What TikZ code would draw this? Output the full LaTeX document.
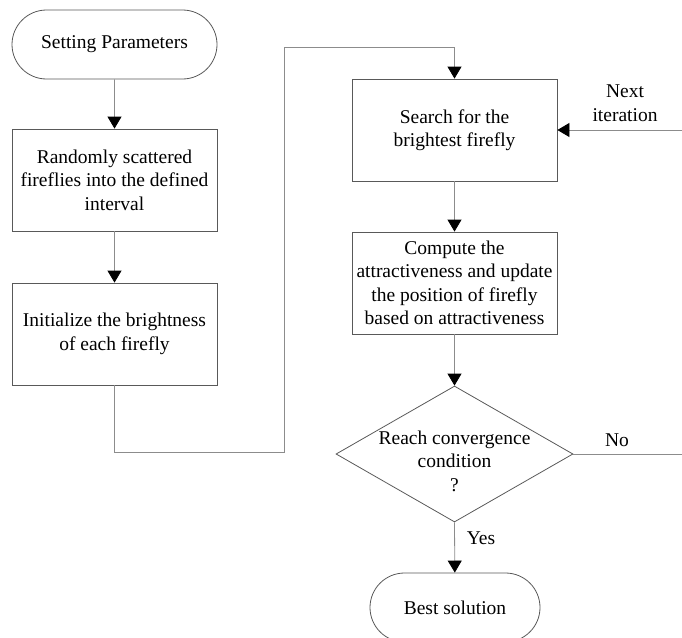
\documentclass[tikz,border=0pt]{standalone}
\usepackage{fontspec}
\setmainfont{Liberation Serif}
\usetikzlibrary{arrows.meta,shapes.misc,shapes.geometric}

\tikzset{
    stepbox/.style={draw=black!65, line width=0.8pt, minimum width=205pt,
        minimum height=102pt, align=center, inner sep=0pt},
    terminal/.style={draw=black!65, line width=0.8pt, rounded rectangle,
        minimum height=69pt, inner sep=0pt},
    decision/.style={draw=black!65, line width=0.8pt, diamond,
        minimum width=237pt, minimum height=136pt, inner sep=0pt},
    flow/.style={draw=black!45, line width=0.8pt},
    flowarrow/.style={flow, -{Triangle[length=12pt,width=14pt,black]}},
}

\begin{document}
\begin{tikzpicture}[x=1pt, y=-1pt, font=\fontsize{19.5pt}{23.5pt}\selectfont]
    \useasboundingbox (0,0) rectangle (682,637);
    \clip (0,0) rectangle (682,637);

    % left column
    \node[terminal, minimum width=205pt] (start) at (114.5,44.5) {Setting Parameters};
    \node[stepbox] (scatter) at (114.5,180) {Randomly scattered\\fireflies into the defined\\interval};
    \node[stepbox] (init) at (114.5,334) {Initialize the brightness\\of each firefly};

    % right column
    \node[stepbox] (search) at (454.5,130) {Search for the\\brightest firefly};
    \node[stepbox] (update) at (454.5,283) {Compute the\\attractiveness and update\\the position of firefly\\based on attractiveness};
    \node[decision] (conv) at (454.5,454) {};
    \node[align=center] (convtext) at (454.5,461) {Reach convergence\\condition\\?};
    \node[terminal, minimum width=170pt] (best) at (455,607.5) {Best solution};

    \coordinate (down) at (114.5,452);
    \coordinate (up) at (284,47);
    \coordinate (nextin) at (682,130);
    \coordinate (noout) at (682,454);

    \draw[flowarrow] (start) -- (scatter);
    \draw[flowarrow] (scatter) -- (init);
    \draw[flowarrow] (init.south) -- (down) -| (up) -| (search.north);
    \draw[flowarrow] (search) -- (update);
    \draw[flowarrow] (update) -- (conv.north);
    \draw[flowarrow] (conv.south) -- (best);
    \draw[flowarrow] (nextin) -- (search.east);
    \draw[flow] (conv.east) -- (noout);

    \node[align=center] (nextlbl) at (625,103) {Next\\iteration};
    \node (nolbl) at (617,440) {No};
    \node (yeslbl) at (481,538) {Yes};
\end{tikzpicture}
\end{document}
